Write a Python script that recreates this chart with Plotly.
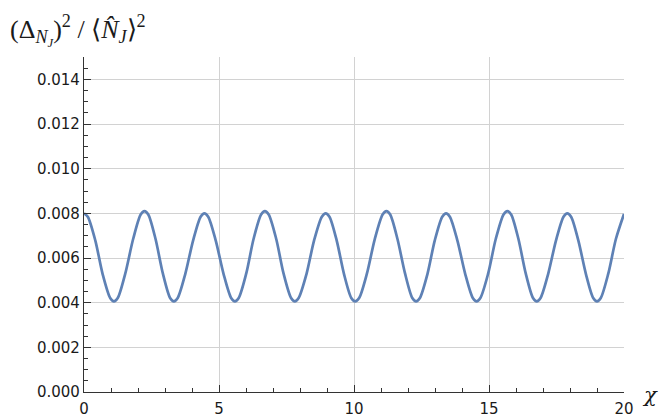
import plotly.graph_objects as go

# points
chi = [0.00, 0.14, 0.42, 0.69, 0.97,
       1.11, 1.25, 1.53, 1.82, 2.10,
       2.24, 2.38, 2.65, 2.92, 3.19,
       3.33, 3.47, 3.75, 4.04, 4.32,
       4.46, 4.60, 4.88, 5.17, 5.45,
       5.59, 5.73, 6.01, 6.28, 6.56,
       6.70, 6.84, 7.12, 7.39, 7.67,
       7.81, 7.95, 8.24, 8.52, 8.81,
       8.95, 9.09, 9.36, 9.63, 9.90,
       10.04, 10.19, 10.48, 10.77, 11.06,
       11.20, 11.34, 11.61, 11.89, 12.16,
       12.30, 12.44, 12.72, 12.99, 13.27,
       13.41, 13.55, 13.83, 14.12, 14.40,
       14.54, 14.68, 14.97, 15.25, 15.54,
       15.68, 15.82, 16.09, 16.36, 16.63,
       16.77, 16.91, 17.19, 17.48, 17.76,
       17.90, 18.04, 18.31, 18.59, 18.86,
       19.00, 19.14, 19.42, 19.70, 20.00]
ratio = [0.00800, 0.00785, 0.00678, 0.00528, 0.00421,
         0.00406, 0.00421, 0.00531, 0.00685, 0.00795,
         0.00810, 0.00795, 0.00685, 0.00531, 0.00421,
         0.00406, 0.00421, 0.00528, 0.00678, 0.00785,
         0.00800, 0.00785, 0.00678, 0.00528, 0.00421,
         0.00406, 0.00421, 0.00531, 0.00685, 0.00795,
         0.00810, 0.00795, 0.00685, 0.00531, 0.00421,
         0.00406, 0.00421, 0.00528, 0.00678, 0.00785,
         0.00800, 0.00785, 0.00678, 0.00528, 0.00421,
         0.00406, 0.00421, 0.00531, 0.00685, 0.00795,
         0.00810, 0.00795, 0.00685, 0.00531, 0.00421,
         0.00406, 0.00421, 0.00528, 0.00678, 0.00785,
         0.00800, 0.00785, 0.00678, 0.00528, 0.00421,
         0.00406, 0.00421, 0.00531, 0.00685, 0.00795,
         0.00810, 0.00795, 0.00685, 0.00531, 0.00421,
         0.00406, 0.00421, 0.00528, 0.00678, 0.00785,
         0.00800, 0.00785, 0.00678, 0.00528, 0.00421,
         0.00406, 0.00421, 0.00531, 0.00685, 0.00797]

y_ticks = [0.000, 0.002, 0.004, 0.006, 0.008, 0.010, 0.012, 0.014]
x_ticks = [0, 5, 10, 15, 20]

L, R, T, B = 84, 35, 57, 25
W, H = 659, 417
pw, ph = W - L - R, H - T - B

fig = go.Figure()
fig.add_trace(go.Scatter(x=chi, y=ratio, mode="lines",
                         line=dict(color="#5e81b5", width=2.7, shape="spline", smoothing=0.8),
                         hoverinfo="skip"))

axis_color = "#333333"
fig.update_layout(
    width=W, height=H,
    margin=dict(l=L, r=R, t=T, b=B, autoexpand=False),
    paper_bgcolor="white", plot_bgcolor="white",
    showlegend=False,
    font=dict(family="DejaVu Sans", size=15, color="#1a1a1a"),
    xaxis=dict(range=[0, 20], tickvals=x_ticks, ticks="inside", ticklen=7, tickcolor=axis_color,
               showline=True, linecolor=axis_color, linewidth=1.3,
               showgrid=True, gridcolor="#d2d2d2", gridwidth=1, zeroline=False,
               minor=dict(ticks="inside", dtick=1, ticklen=4, tickcolor=axis_color, showgrid=False),
               tickfont=dict(size=15), automargin=False, ticklabelstandoff=3),
    yaxis=dict(range=[0, 0.015], tickvals=y_ticks, tickformat=".3f", ticks="inside", ticklen=7,
               tickcolor=axis_color, showline=True, linecolor=axis_color, linewidth=1.3,
               showgrid=True, gridcolor="#d2d2d2", gridwidth=1, zeroline=False,
               minor=dict(ticks="inside", dtick=0.0005, ticklen=4, tickcolor=axis_color, showgrid=False),
               tickfont=dict(size=15), automargin=False),
    annotations=[
        dict(x=(640 - L) / pw, y=(H - B - 395) / ph, xref="paper", yref="paper", text="<i>χ</i>",
             showarrow=False, font=dict(family="DejaVu Serif", size=21, color="#1a1a1a"),
             xanchor="left", yanchor="middle"),
        dict(x=(8 - L) / pw, y=(H - B - 9) / ph, xref="paper", yref="paper",
             text="(Δ<sub><i>N</i><sub><i>J</i></sub></sub>)<sup>2</sup> / ⟨<i>N̂</i><sub><i>J</i></sub>⟩<sup>2</sup>",
             showarrow=False, font=dict(family="Liberation Serif", size=26, color="#1a1a1a"),
             xanchor="left", yanchor="top"),
    ],
)

fig.write_html("out.html", config={"displayModeBar": False},
               post_script="document.body.style.margin='0';")
